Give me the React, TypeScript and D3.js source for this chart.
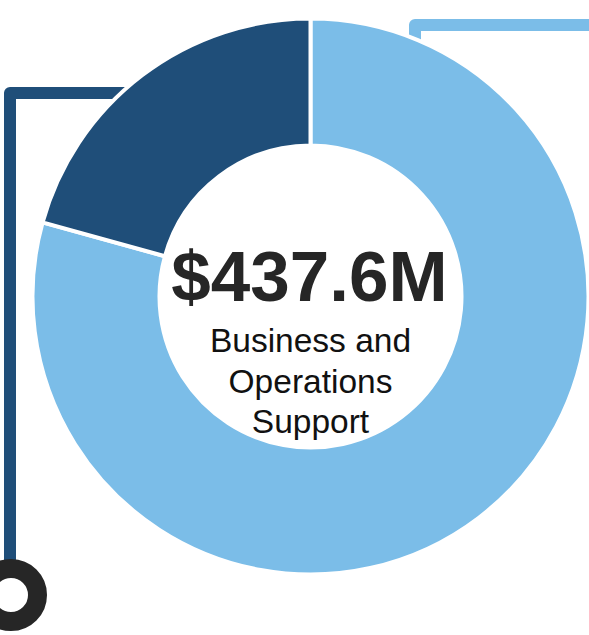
import React from "react";
import * as d3 from "d3";

const categories = ["Business and Operations Support", "Other"];
const values = [347.0, 90.6];
const colors = ["#7bbde8", "#1f4e79"];
const totalLabel = "$437.6M";
const subtitleLines = ["Business and", "Operations", "Support"];

const W = 589;
const H = 635;
const cx = 310.5;
const cy = 296.5;
const outerR = 278;
const innerR = 151;

export default function App() {
  const pie = d3
    .pie<number>()
    .sort(null)
    .value((d) => d)
    .startAngle(0)
    .endAngle(2 * Math.PI);
  const arcs = pie(values);
  const arcGen = d3.arc<d3.PieArcDatum<number>>().innerRadius(innerR).outerRadius(outerR);

  return (
    <svg
      width={W}
      height={H}
      style={{ position: "absolute", left: 0, top: 0, display: "block" }}
    >
      <rect width={W} height={H} fill="#ffffff" />
      {/* connector lines */}
      <path
        d="M 10 580 V 93 H 140"
        fill="none"
        stroke={colors[1]}
        strokeWidth={12}
        strokeLinejoin="round"
      />
      <path
        d="M 415 50 V 25 H 600"
        fill="none"
        stroke={colors[0]}
        strokeWidth={12}
        strokeLinejoin="round"
      />
      <circle cx={11} cy={595} r={26.5} fill="#ffffff" stroke="#262626" strokeWidth={19} />
      {/* donut */}
      <g transform={`translate(${cx},${cy})`}>
        {arcs.map((a, i) => (
          <path
            key={categories[i]}
            d={arcGen(a) || ""}
            fill={colors[i]}
            stroke="#ffffff"
            strokeWidth={4}
          />
        ))}
        <text
          x={-1}
          y={4.5}
          textAnchor="middle"
          fontFamily="'Liberation Sans', Arial, sans-serif"
          fontWeight="bold"
          fontSize={71}
          fill="#262626"
        >
          {totalLabel}
        </text>
        {subtitleLines.map((t, i) => (
          <text
            key={t}
            x={0}
            y={55.5 + i * 40.5}
            textAnchor="middle"
            fontFamily="'Liberation Sans', Arial, sans-serif"
            fontSize={33.5}
            fill="#111111"
          >
            {t}
          </text>
        ))}
      </g>
    </svg>
  );
}
